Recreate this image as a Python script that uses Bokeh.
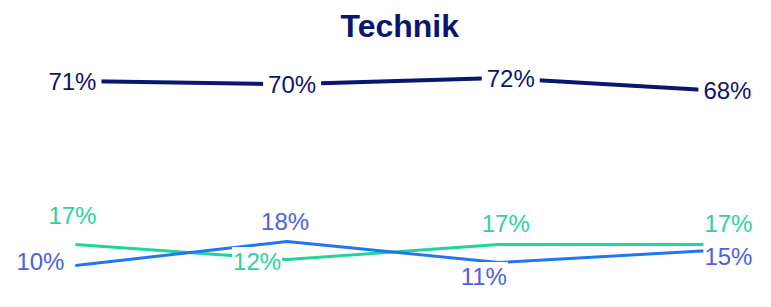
from bokeh.plotting import figure
from bokeh.models import ColumnDataSource, Range1d
from bokeh.core.properties import value
from bokeh.embed import file_html
from bokeh.resources import INLINE

# ---- data ----
categories = ["1", "2", "3", "4"]
navy_values = [71, 70, 72, 68]
teal_values = [17, 12, 17, 17]
blue_values = [10, 18, 11, 15]
title_text = "Technik"

# ---- styling ----
NAVY = "#0b1470"
TEAL_LINE = "#1fd59c"
TEAL_TEXT = "#2ad3a0"
BLUE_LINE = "#2176f0"
BLUE_TEXT = "#4a62e0"
FONT = "Liberation Sans"

navy_dx = [-3, 5, 12, 17]
navy_dy = [0, 0, 0, 0]
teal_dx = [-3, -30, 7, 18]
teal_dy = [-29, 2, -21, -21]
blue_dx = [-35, -2, -15, 18]
blue_dy = [-4, -20, 14, 6]

xs = list(range(len(categories)))

p = figure(width=755, height=291, output_backend="svg", toolbar_location=None,
           x_range=Range1d(-0.354, 3.213), y_range=Range1d(1.44, 81.78),
           min_border=0, outline_line_color=None, title=title_text)
p.axis.visible = False
p.grid.visible = False
p.background_fill_color = "white"
p.border_fill_color = "white"
p.title.align = "left"
p.title.offset = 340
p.title.text_font = FONT
p.title.text_font_size = "32px"
p.title.text_font_style = "bold"
p.title.text_color = NAVY

p.line(xs, teal_values, line_color=TEAL_LINE, line_width=3)
p.line(xs, blue_values, line_color=BLUE_LINE, line_width=3)
p.line(xs, navy_values, line_color=NAVY, line_width=4)

def labels(vals, dx, dy, color, pad):
    src = ColumnDataSource(dict(x=xs, y=vals, t=[f"{v}%" for v in vals], dx=dx, dy=dy))
    p.text(x="x", y="y", text="t", source=src, x_offset="dx", y_offset="dy",
           text_align="center", text_baseline="middle", text_color=color,
           text_font=value(FONT), text_font_size="24px",
           background_fill_color="white", padding=pad)

labels(teal_values, teal_dx, teal_dy, TEAL_TEXT, 1)
labels(blue_values, blue_dx, blue_dy, BLUE_TEXT, 1)
labels(navy_values, navy_dx, navy_dy, NAVY, 5)

open("out.html", "w").write(file_html(p, INLINE))
